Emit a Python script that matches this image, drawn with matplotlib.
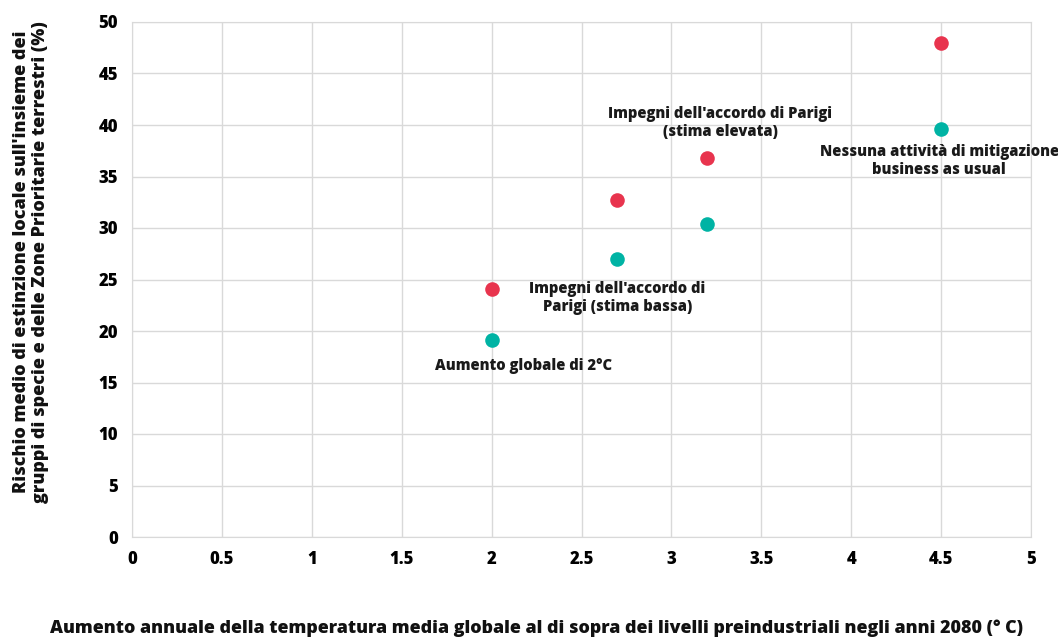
import matplotlib
matplotlib.use("Agg")
import matplotlib.pyplot as plt

temps = [2.0, 2.7, 3.2, 4.5]
risk_high = [24.1, 32.7, 36.8, 48.0]
risk_low = [19.1, 27.0, 30.4, 39.6]
x_ticks = [0, 0.5, 1, 1.5, 2, 2.5, 3, 3.5, 4, 4.5, 5]
x_tick_labels = ["0", "0.5", "1", "1.5", "2", "2.5", "3", "3.5", "4", "4.5", "5"]
y_ticks = [0, 5, 10, 15, 20, 25, 30, 35, 40, 45, 50]
labels = [
    "Aumento globale di 2°C",
    "Impegni dell'accordo di\nParigi (stima bassa)",
    "Impegni dell'accordo di Parigi\n(stima elevata)",
    "Nessuna attività di mitigazione\nbusiness as usual",
]
label_pos = [(2.18, 16.6), (2.70, 23.2), (3.27, 40.2), (4.49, 36.5)]

plt.rcParams['font.family'] = ['Open Sans', 'DejaVu Sans']
W = 800

fig = plt.figure(figsize=(10.58, 6.38), dpi=100)
ax = fig.add_axes([132/1058, 1-537/638, (1031-132)/1058, (537-22)/638])

ax.scatter(temps, risk_high, s=110, color="#E8344E", zorder=3, linewidths=0)
ax.scatter(temps, risk_low, s=110, color="#00B3A4", zorder=3, linewidths=0)

for t, (px, py) in zip(labels, label_pos):
    ax.text(px, py, t, ha="center", va="center", fontsize=10.6, fontweight=W,
            color="#1a1a1a", linespacing=1.1, clip_on=False)

ax.set_xlim(0, 5)
ax.set_ylim(0, 50)
ax.set_xticks(x_ticks)
ax.set_xticklabels(x_tick_labels)
ax.set_yticks(y_ticks)
ax.grid(True, color="#d9d9d9", linewidth=1)
ax.set_axisbelow(True)
for s in ax.spines.values():
    s.set_color("#d9d9d9")
ax.tick_params(length=0, labelsize=12, pad=10)
for lab in ax.get_xticklabels() + ax.get_yticklabels():
    lab.set_fontweight(W)

fig.text(31/1058, 1-262/638,
         "Rischio medio di estinzione locale sull'insieme dei\ngruppi di specie e delle Zone Prioritarie terrestri (%)",
         rotation=90, ha="center", va="center", fontsize=13, fontweight=W,
         linespacing=1.2, color="#111111")
fig.text(537/1058, 1-628/638, "Aumento annuale della temperatura media globale al di sopra dei livelli preindustriali negli anni 2080 (° C)",
         ha="center", va="center", fontsize=12.9, fontweight=W, color="#111111")

fig.savefig("out.png", dpi=100)
